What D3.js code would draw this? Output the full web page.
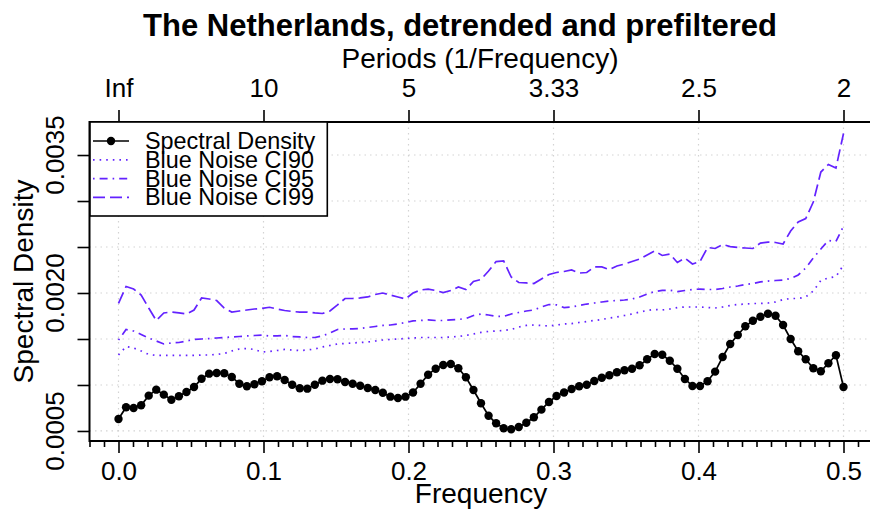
<!DOCTYPE html>
<html>
<head>
<meta charset="utf-8">
<script src="https://cdn.jsdelivr.net/npm/d3@7"></script>
<style>
  body { margin: 0; background: #fff; }
  text { font-family: "Liberation Sans", Arial, Helvetica, sans-serif; fill: #000; }
</style>
</head>
<body>
<div id="chart"></div>
<script>
// frequencies k/192, k = 0..96
const nObs = 192;
const freq = d3.range(0, 97).map(k => k / nObs);

// values in units of 1e-4
const spectral = [
  6.30, 7.58, 7.50, 7.79, 8.84, 9.49, 8.95, 8.40, 8.77, 9.24,
  9.78, 10.68, 11.23, 11.30, 11.27, 10.87, 10.14, 9.86, 10.08, 10.40,
  10.84, 10.95, 10.54, 10.03, 9.64, 9.60, 10.03, 10.47, 10.65, 10.62,
  10.33, 10.14, 9.92, 9.67, 9.46, 9.16, 8.73, 8.59, 8.73, 9.18,
  10.14, 11.12, 11.77, 12.17, 12.28, 11.82, 10.84, 9.46, 8.01, 6.66,
  5.84, 5.29, 5.18, 5.43, 5.90, 6.49, 7.32, 8.15, 8.80, 9.18,
  9.57, 9.86, 10.03, 10.43, 10.79, 11.05, 11.38, 11.60, 11.77, 12.14,
  12.79, 13.37, 13.29, 12.64, 11.77, 10.65, 9.89, 9.89, 10.41, 11.45,
  13.04, 14.46, 15.43, 16.38, 16.99, 17.42, 17.75, 17.53, 16.52, 15.00,
  13.66, 12.79, 11.82, 11.49, 12.36, 13.23, 9.78
].map(v => v * 1e-4);

const ci90 = [
  13.26, 14.18, 14.02, 13.70, 13.32, 13.21, 13.21, 13.21, 13.21, 13.21,
  13.21, 13.26, 13.26, 13.32, 13.42, 13.70, 13.91, 13.97, 13.86, 13.59,
  13.64, 13.75, 13.86, 13.80, 13.75, 13.80, 13.91, 14.13, 14.29, 14.46,
  14.51, 14.57, 14.62, 14.67, 14.78, 14.89, 14.95, 15.00, 15.05, 15.11,
  15.16, 15.16, 15.16, 15.16, 15.22, 15.27, 15.38, 15.54, 15.71, 15.82,
  15.87, 15.92, 16.03, 16.30, 16.47, 16.52, 16.47, 16.41, 16.52, 16.63,
  16.68, 16.79, 16.90, 17.01, 17.12, 17.28, 17.39, 17.55, 17.72, 17.93,
  18.10, 18.21, 18.15, 18.26, 18.42, 18.48, 18.48, 18.48, 18.42, 18.37,
  18.48, 18.64, 18.75, 18.80, 18.86, 18.86, 18.91, 19.02, 19.29, 19.40,
  19.40, 19.57, 20.22, 21.36, 21.63, 21.79, 23.04
].map(v => v * 1e-4);

const ci95 = [
  14.89, 16.03, 15.87, 15.49, 15.11, 14.78, 14.46, 14.57, 14.62, 14.78,
  14.95, 15.00, 15.05, 15.11, 15.16, 15.22, 15.27, 15.33, 15.38, 15.43,
  15.33, 15.33, 15.38, 15.27, 15.22, 15.16, 15.16, 15.33, 15.65, 16.03,
  16.09, 16.09, 16.14, 16.25, 16.36, 16.47, 16.52, 16.63, 16.79, 16.96,
  17.01, 17.07, 17.01, 17.01, 17.07, 17.12, 17.23, 17.55, 17.72, 17.61,
  17.45, 17.45, 17.72, 17.88, 18.04, 18.15, 18.48, 18.75, 18.70, 18.42,
  18.48, 18.64, 18.80, 18.91, 19.02, 19.13, 19.18, 19.24, 19.35, 19.57,
  19.89, 20.16, 20.29, 20.30, 20.16, 20.27, 20.38, 20.43, 20.38, 20.38,
  20.49, 20.65, 20.76, 20.92, 21.03, 21.20, 21.30, 21.36, 21.41, 21.58,
  21.96, 22.72, 23.80, 24.78, 25.71, 25.60, 27.28
].map(v => v * 1e-4);

const ci99 = [
  18.88, 20.71, 20.43, 19.78, 18.37, 17.01, 17.83, 17.93, 17.83, 17.72,
  18.15, 19.46, 19.35, 19.18, 18.37, 17.93, 18.04, 18.15, 18.26, 18.32,
  18.45, 18.26, 18.10, 17.99, 17.93, 17.93, 17.83, 17.77, 18.04, 18.70,
  19.40, 19.40, 19.46, 19.57, 19.84, 20.00, 19.78, 19.57, 19.35, 20.00,
  20.33, 20.43, 20.27, 20.05, 20.27, 20.65, 20.38, 21.25, 21.47, 22.39,
  23.42, 23.48, 21.74, 21.14, 21.09, 21.03, 21.52, 22.01, 22.23, 22.34,
  22.50, 22.17, 22.23, 22.83, 22.83, 22.55, 22.93, 23.15, 23.42, 23.70,
  24.13, 24.57, 24.08, 24.24, 23.32, 23.80, 23.15, 23.42, 24.95, 24.84,
  25.27, 25.05, 24.95, 24.89, 24.84, 25.43, 25.54, 25.49, 25.33, 26.74,
  27.72, 28.10, 29.89, 33.15, 33.97, 33.59, 37.34
].map(v => v * 1e-4);

const xTicks = [0, 0.1, 0.2, 0.3, 0.4, 0.5];
const xMinorTicks = d3.range(-2, 53).map(i => i / 100).filter((v, i) => (i - 2) % 10 !== 0);
const periodLabels = ['Inf', '10', '5', '3.33', '2.5', '2'];
const yTicks = [0.0005, 0.0010, 0.0015, 0.0020, 0.0025, 0.0030, 0.0035];
const yTickLabels = ['0.0005', '', '', '0.0020', '', '', '0.0035'];
const legendLabels = ['Spectral Density', 'Blue Noise CI90', 'Blue Noise CI95', 'Blue Noise CI99'];

const W = 870, H = 516;
const blue = '#6322ff';
const dashes = { ci90: '1.6,5', ci95: '1.6,5,8,5', ci99: '12,5' };

const svg = d3.select('#chart').append('svg')
  .attr('width', W).attr('height', H);

const x = d3.scaleLinear().domain([-0.02, 0.52]).range([89.5, 872.5]);
const y = d3.scaleLinear().domain([0.000391, 0.003859]).range([441, 122]);

// grid
const grid = svg.append('g').attr('stroke', '#d3d3d3').attr('stroke-width', 1.2)
  .attr('stroke-dasharray', '1.5,4');
grid.selectAll('.gx').data(xTicks).enter().append('line')
  .attr('x1', d => x(d)).attr('x2', d => x(d))
  .attr('y1', y.range()[1]).attr('y2', y.range()[0]);
grid.selectAll('.gy').data(yTicks).enter().append('line')
  .attr('x1', x.range()[0]).attr('x2', x.range()[1])
  .attr('y1', d => y(d)).attr('y2', d => y(d));

// series
const line = vals => d3.line().x((d, i) => x(freq[i])).y(d => y(d))(vals);

[['ci90', ci90], ['ci95', ci95], ['ci99', ci99]].forEach(([k, vals]) => {
  svg.append('path')
    .attr('d', line(vals))
    .attr('fill', 'none')
    .attr('stroke', blue)
    .attr('stroke-width', 1.7)
    .attr('stroke-dasharray', dashes[k]);
});

svg.append('path')
  .attr('d', line(spectral))
  .attr('fill', 'none')
  .attr('stroke', '#000')
  .attr('stroke-width', 1.7);

svg.append('g').selectAll('circle').data(spectral).enter().append('circle')
  .attr('cx', (d, i) => x(freq[i]))
  .attr('cy', d => y(d))
  .attr('r', 4.2)
  .attr('fill', '#000');

// box
svg.append('rect')
  .attr('x', x.range()[0]).attr('y', y.range()[1])
  .attr('width', x.range()[1] - x.range()[0])
  .attr('height', y.range()[0] - y.range()[1])
  .attr('fill', 'none').attr('stroke', '#000').attr('stroke-width', 2);

// bottom axis
const bottomAxis = svg.append('g').attr('transform', `translate(0,${y.range()[0]})`);
bottomAxis.call(d3.axisBottom(x).tickValues(xTicks).tickSize(12).tickPadding(8.5)
  .tickFormat(d3.format('.1f')));
bottomAxis.append('g').call(d3.axisBottom(x).tickValues(xMinorTicks).tickSize(6).tickFormat(''));
bottomAxis.selectAll('.domain').remove();
bottomAxis.selectAll('line').attr('stroke-width', 1.6);
bottomAxis.selectAll('text').attr('font-size', 26).attr('font-family', null);

// top axis (periods)
const topAxis = svg.append('g').attr('transform', `translate(0,${y.range()[1]})`);
topAxis.call(d3.axisTop(x).tickValues(xTicks).tickSize(12).tickPadding(13)
  .tickFormat((d, i) => periodLabels[i]));
topAxis.selectAll('.domain').remove();
topAxis.selectAll('line').attr('stroke-width', 1.6);
topAxis.selectAll('text').attr('font-size', 26).attr('font-family', null);

// left axis
const leftAxis = svg.append('g').attr('transform', `translate(${x.range()[0]},0)`);
leftAxis.call(d3.axisLeft(y).tickValues(yTicks).tickSize(12).tickFormat(''));
leftAxis.selectAll('.domain').remove();
leftAxis.selectAll('line').attr('stroke-width', 1.6);
leftAxis.selectAll('.ylab').data(yTicks).enter().append('text')
  .attr('class', 'ylab')
  .attr('transform', d => `translate(-26,${y(d)}) rotate(-90)`)
  .attr('text-anchor', 'middle')
  .attr('font-size', 26)
  .text((d, i) => yTickLabels[i]);

// titles
svg.append('text').attr('x', 460).attr('y', 36).attr('text-anchor', 'middle')
  .attr('font-size', 31).attr('font-weight', 'bold')
  .text('The Netherlands, detrended and prefiltered');
svg.append('text').attr('x', 480).attr('y', 68).attr('text-anchor', 'middle')
  .attr('font-size', 28).text('Periods (1/Frequency)');
svg.append('text').attr('x', 481).attr('y', 503).attr('text-anchor', 'middle')
  .attr('font-size', 28).text('Frequency');
svg.append('text').attr('transform', `translate(33,${(y.range()[0] + y.range()[1]) / 2}) rotate(-90)`)
  .attr('text-anchor', 'middle').attr('font-size', 28).text('Spectral Density');

// legend
const lg = svg.append('g');
lg.append('rect').attr('x', 90).attr('y', 122).attr('width', 237.3).attr('height', 94)
  .attr('fill', '#fff').attr('stroke', '#000').attr('stroke-width', 1.6);
const rows = lg.selectAll('.row').data(legendLabels).enter().append('g')
  .attr('transform', (d, i) => `translate(0,${141 + i * 18.8})`);
rows.append('line').attr('x1', 93).attr('x2', 129).attr('y1', 0).attr('y2', 0)
  .attr('stroke', (d, i) => i === 0 ? '#000' : blue)
  .attr('stroke-width', 1.7)
  .attr('stroke-dasharray', (d, i) => [null, dashes.ci90, dashes.ci95, dashes.ci99][i]);
rows.filter((d, i) => i === 0).append('circle').attr('cx', 111).attr('cy', 0).attr('r', 4.2);
rows.append('text').attr('x', 145).attr('y', 8).attr('font-size', 23.4).text(d => d);
</script>
</body>
</html>
